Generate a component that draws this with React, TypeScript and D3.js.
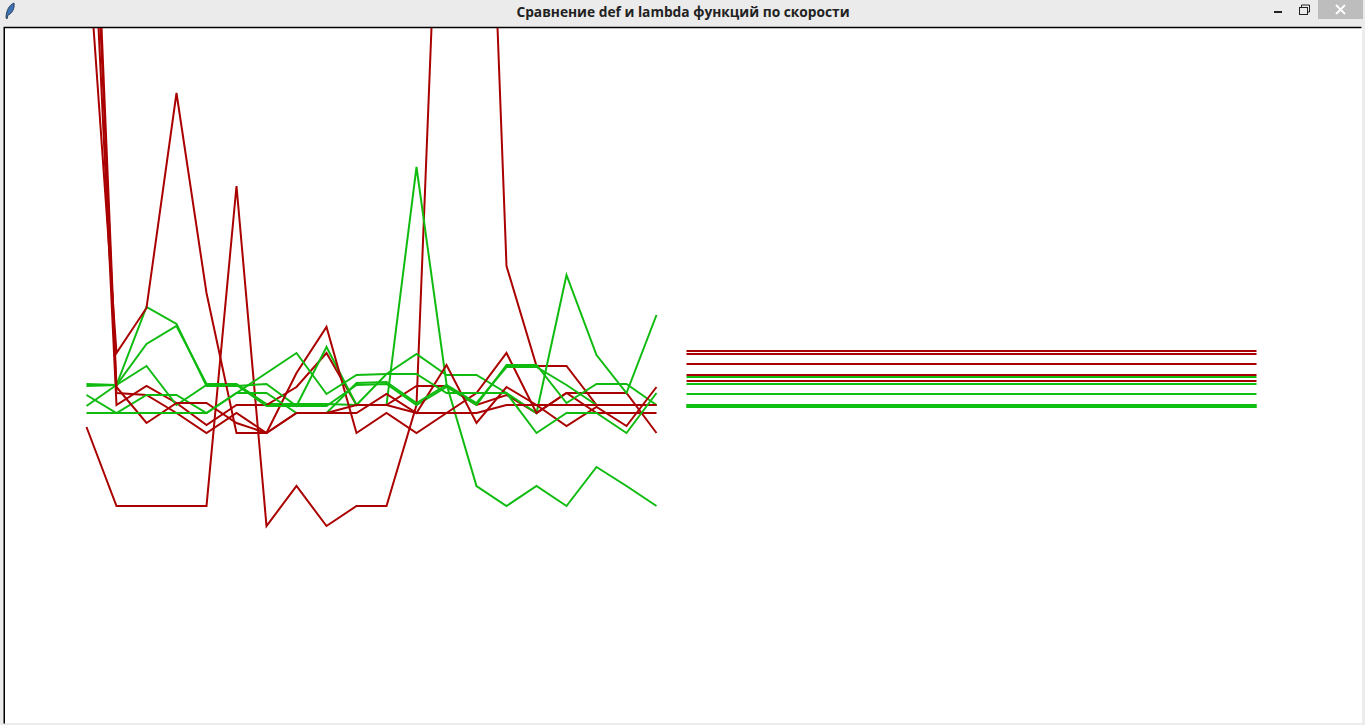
import * as d3 from "d3"

const title = "Сравнение def и lambda функций по скорости"

// timings per run, in canvas units (20 runs each)
const defSeries = [
  [298, 219, 219, 219, 219, 539, 199, 239, 199, 219, 219, 320, 1075, 1255, 459, 359, 359, 320, 320, 320],
  [950, 320, 339, 322, 300, 320, 320, 338, 372, 320, 320, 339, 339, 320, 330, 312, 332, 332, 332, 292],
  [797, 372, 417, 632, 432, 292, 292, 352, 398, 292, 312, 292, 312, 332, 372, 312, 332, 312, 312, 312],
  [1018, 332, 330, 312, 292, 312, 292, 312, 312, 312, 331, 312, 360, 302, 338, 320, 299, 318, 299, 338],
  [1058, 338, 302, 322, 322, 302, 292, 312, 312, 320, 320, 312, 312, 312, 320, 320, 320, 320, 320, 320],
]
const lambdaSeries = [
  [339, 340, 381, 399, 341, 341, 321, 321, 321, 320, 320, 558, 341, 239, 219, 239, 219, 258, 239, 219],
  [341, 340, 418, 401, 339, 339, 341, 319, 378, 320, 351, 371, 350, 350, 332, 312, 450, 370, 332, 410],
  [319, 340, 359, 320, 340, 340, 319, 319, 319, 340, 341, 320, 338, 320, 360, 360, 322, 341, 341, 320],
  [330, 312, 330, 330, 312, 332, 332, 312, 312, 342, 343, 322, 340, 322, 358, 358, 340, 320, 320, 320],
  [312, 312, 312, 312, 312, 332, 352, 372, 331, 350, 351, 351, 332, 332, 332, 292, 312, 312, 292, 332],
]

// averages shown on the right
const defAverages = [374, 371, 361, 350, 344]
const lambdaAverages = [348, 341, 331, 319, 319]

const RED = "#aa0000"
const GREEN = "#10bb10"
const AVG_GREEN = "#10c010"

const x = d3.scaleLinear().domain([0, 19]).range([86.5, 656.5])
const xAvg = d3.scaleLinear().domain([0, 19]).range([686.5, 1256.5])
const y = d3.scaleLinear().domain([0, 700]).range([725, 25])

const line = d3
  .line<number>()
  .x((_, i) => x(i))
  .y((d) => y(d))

export default function App() {
  return (
    <svg width={1365} height={725} style={{ position: "fixed", left: 0, top: 0, display: "block" }}>
      <rect x={0} y={0} width={1365} height={725} fill="#ececec" />
      {/* title bar */}
      <rect x={0} y={0} width={1365} height={25} fill="#ebebeb" />
      <path d="M6 18 C6 11 9 5 14 3 C15 8 12 14 8 15 L7 19 Z" fill="#3f72b5" stroke="#1c2c44" strokeWidth={0.8} />
      <text
        x={683}
        y={17}
        textAnchor="middle"
        fontFamily="'Open Sans', 'Noto Sans', sans-serif"
        fontWeight={700}
        fontSize={13.75}
        fill="#222"
      >
        {title}
      </text>
      <rect x={1274} y={11} width={8} height={2} fill="#222" />
      <rect x={1299.5} y={7.5} width={8} height={7} fill="none" stroke="#222" strokeWidth={1} />
      <path d="M1301.5 7 V5 H1309.5 V12 H1307.5" fill="none" stroke="#222" strokeWidth={1} />
      <rect x={1318} y={0} width={45} height={19} fill="#bdbdbd" />
      <path d="M1336 5 L1345 14 M1345 5 L1336 14" stroke="#fff" strokeWidth={1.8} />

      {/* canvas */}
      <rect x={4} y={27} width={1358} height={696} fill="#fff" />
      <path d="M4.25 723.5 V27.5 H1361.5" fill="none" stroke="#000" strokeWidth={1.5} />
      <clipPath id="canvas">
        <rect x={5} y={28} width={1357} height={695} />
      </clipPath>
      <g clipPath="url(#canvas)" fill="none" strokeWidth={2} strokeLinejoin="miter">
        {defSeries.map((s, i) => (
          <g key={i}>
            <path d={line(s) ?? ""} stroke={RED} />
            <path d={line(lambdaSeries[i]) ?? ""} stroke={GREEN} />
          </g>
        ))}
        {defAverages.map((v, i) => (
          <line key={i} x1={xAvg(0)} x2={xAvg(19)} y1={Math.round(y(v))} y2={Math.round(y(v))} stroke={RED} />
        ))}
        {lambdaAverages.map((v, i) => (
          <line key={i} x1={xAvg(0)} x2={xAvg(19)} y1={Math.round(y(v))} y2={Math.round(y(v))} stroke={AVG_GREEN} strokeWidth={i > 2 ? 4 : 2} />
        ))}
      </g>
    </svg>
  )
}
